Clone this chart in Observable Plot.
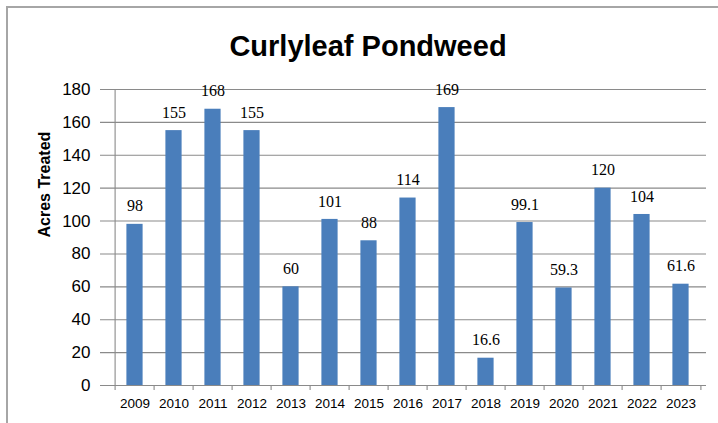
<!DOCTYPE html>
<html>
<head>
<meta charset="utf-8">
<script src="https://cdn.jsdelivr.net/npm/d3@7"></script>
<script src="https://cdn.jsdelivr.net/npm/@observablehq/plot@0.6"></script>
<style>
  html, body { margin: 0; padding: 0; background: #fff; }
  #wrap { position: relative; width: 718px; height: 423px; overflow: hidden; }
  #border { position: absolute; left: 6px; top: 6px; width: 800px; height: 500px;
            border-left: 2px solid #a6a6a6; border-top: 2px solid #a6a6a6; }
  #chart { position: absolute; left: 0; top: 0; }
</style>
</head>
<body>
<div id="wrap"><div id="border"></div><div id="chart"></div></div>
<script>
const title = "Curlyleaf Pondweed";
const yLabel = "Acres Treated";
const years = ["2009","2010","2011","2012","2013","2014","2015","2016","2017","2018","2019","2020","2021","2022","2023"];
const acres = [98, 155, 168, 155, 60, 101, 88, 114, 169, 16.6, 99.1, 59.3, 120, 104, 61.6];
const valueLabels = ["98","155","168","155","60","101","88","114","169","16.6","99.1","59.3","120","104","61.6"];
const yTicks = [0, 20, 40, 60, 80, 100, 120, 140, 160, 180];

const data = years.map((y, i) => ({year: y, acres: acres[i], label: valueLabels[i]}));

const W = 718, H = 423;
const mL = 109, mR = 12, mT = 89, mB = 38;
const step = (W - mL - mR) / years.length;
const frameH = H - mT - mB;
const gridColor = "#8a8a8a";

const chart = Plot.plot({
  width: W,
  height: H,
  marginLeft: mL,
  marginRight: mR,
  marginTop: mT,
  marginBottom: mB,
  style: {fontFamily: "'Liberation Sans', Arial, sans-serif", background: "transparent", color: "#000"},
  x: {domain: years, padding: 0, label: null},
  y: {domain: [0, 180], label: null},
  marks: [
    Plot.gridY(yTicks, {stroke: gridColor, strokeOpacity: 1, strokeWidth: 1.1, insetLeft: -9}),
    Plot.ruleX([years[0]], {dx: -step / 2, stroke: gridColor, strokeWidth: 1.1}),
    Plot.ruleX(years, {dx: -step / 2, stroke: gridColor, strokeWidth: 1.1, insetTop: frameH, insetBottom: -5}),
    Plot.ruleX([years[years.length - 1]], {dx: step / 2, stroke: gridColor, strokeWidth: 1.1, insetTop: frameH, insetBottom: -5}),
    Plot.barY(data, {x: "year", y: "acres", fill: "#4a7ebb", insetLeft: 11.4, insetRight: 11.4}),
    Plot.ruleY([0], {stroke: gridColor, strokeWidth: 1.1}),
    Plot.text(data, {x: "year", y: "acres", text: "label", dy: -18, fontSize: 16,
      fontFamily: "'Liberation Serif', serif", fill: "#000"}),
    Plot.axisY(yTicks, {tickSize: 0, tickPadding: 19, fontSize: 17, fill: "#000", label: null}),
    Plot.axisX({tickSize: 0, tickPadding: 13, fontSize: 13.5, fill: "#000", label: null}),
    Plot.text([yLabel], {frameAnchor: "left", dx: -65, rotate: -90, fontSize: 16, fontWeight: "bold", fill: "#000"}),
    Plot.text([title], {frameAnchor: "top", dx: -40, dy: -34, lineAnchor: "bottom", fontSize: 29, fontWeight: "bold", fill: "#000"})
  ]
});
document.getElementById("chart").appendChild(chart);
</script>
</body>
</html>
